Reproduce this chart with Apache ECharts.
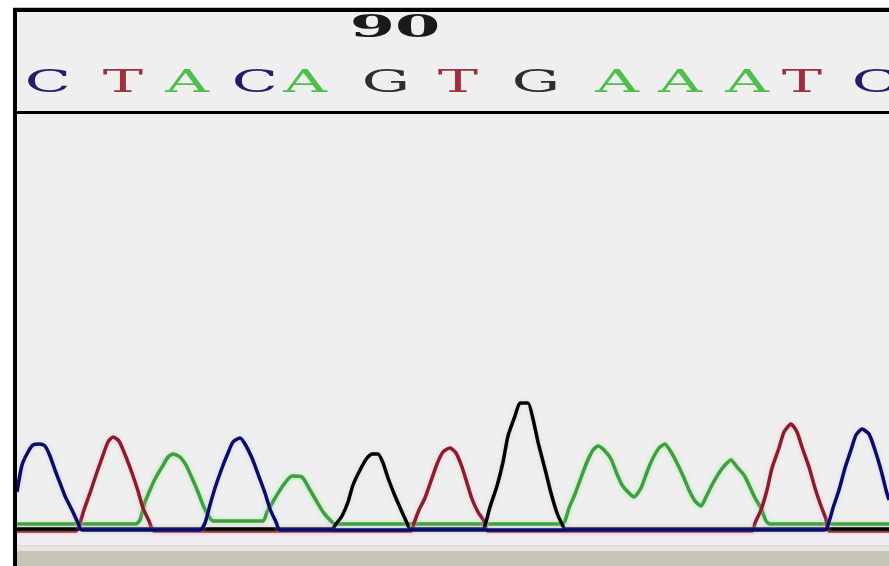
<!DOCTYPE html>
<html>
<head>
<meta charset="utf-8">
<script src="https://cdn.jsdelivr.net/npm/echarts@6/dist/echarts.min.js"></script>
<style>
html,body{margin:0;padding:0;background:#fff;}
#chart{width:889px;height:566px;}
</style>
</head>
<body>
<div id="chart"></div>
<script>
// Base calls (header) and their positions along the scan axis
const baseLetters = ['C','T','A','C','A','G','T','G','A','A','A','T','C'];
const basePositions = [48,123,187,255,305,386,458,536,617,680,747,802,875];
// Position ruler label
const rulerLabels = ['90'];
const rulerPositions = [395];

// Trace intensities [scan position, signal]
const traceC = [[17,38],[22,65],[28,78],[33,85],[40,86],[45,84],[50,74],[55,60],[60,47],[65,34],[72,20],[78,7],[82,0],
  [200,0],[205,7],[210,25],[215,42],[222,62],[228,77],[233,88],[240,92],[245,86],[252,72],[258,56],[265,37],[270,21],[276,8],[280,0],
  [825,0],[829,8],[833,22],[839,40],[845,62],[851,80],[856,95],[862,101],[869,96],[875,80],[881,60],[886,40],[889,30]];
const traceT = [[17,-1],[76,-1],[79,4],[84,20],[90,37],[96,55],[102,72],[108,88],[113,93],[119,89],[126,73],[132,57],[138,39],[143,22],[149,9],[154,-1],
  [411,-1],[414,7],[419,20],[425,32],[431,49],[437,66],[443,78],[450,82],[456,77],[462,63],[467,47],[472,31],[478,18],[484,9],[488,-1],
  [752,-1],[755,7],[761,20],[767,40],[772,62],[779,82],[784,98],[791,106],[797,98],[802,83],[809,63],[815,42],[821,24],[826,11],[829,-1],[889,-1]];
const traceA = [[17,6],[136,6],[140,10],[145,28],[150,40],[155,51],[162,63],[168,73],[173,76],[180,73],[186,65],[192,52],[198,38],[203,25],[208,15],[213,9],
  [263,9],[267,18],[274,30],[282,43],[292,54],[302,53],[310,40],[317,28],[323,18],[330,10],[335,6],
  [562,6],[565,9],[569,22],[575,36],[582,55],[587,68],[593,80],[598,84],[604,80],[611,71],[617,56],[622,45],[629,37],[634,33],
  [641,42],[647,58],[652,70],[659,82],[665,86],[671,78],[677,67],[684,52],[689,40],[695,29],[701,24],
  [707,35],[712,45],[719,57],[725,65],[731,70],[737,63],[744,55],[749,45],[755,32],[761,22],[766,9],[770,6],[889,6]];
const traceG = [[17,1],[332,1],[336,6],[342,14],[348,28],[353,45],[360,60],[367,72],[372,76],[378,76],[383,67],[388,52],[395,34],[402,18],[407,7],[410,1],
  [483,1],[486,8],[490,23],[497,44],[503,68],[508,94],[515,114],[520,127],[528,127],[533,111],[538,88],[545,61],[551,37],[557,17],[562,6],[565,1],[889,1]];

const baseColors = {C:'#1f1f6c', T:'#a0303e', A:'#4cbf4c', G:'#2e2e2e'};
const traceColors = {C:'#0b0b6a', T:'#8a1c2c', A:'#3f9f3f', G:'#000000'};

const chart = echarts.init(document.getElementById('chart'), null, {renderer:'canvas'});

function traceSeries(name, data, glow){
  return {
    name: name, type:'line', data: data, xAxisIndex:0, yAxisIndex:0,
    showSymbol:false, smooth:0.2, silent:true,
    lineStyle:{color:traceColors[name], width:3.5, shadowColor:glow, shadowBlur:4},
    emphasis:{disabled:true}
  };
}

chart.setOption({
  animation:false,
  backgroundColor:'#ffffff',
  graphic:[
    {type:'rect', shape:{x:13,y:7,width:876,height:1}, style:{fill:'#c8c8c8'}, z:-10},
    {type:'rect', shape:{x:17,y:12,width:872,height:534}, style:{fill:'#efefef'}, z:-10},
    {type:'rect', shape:{x:17,y:534,width:872,height:11}, style:{fill:'#f1eef2'}, z:-9},
    {type:'rect', shape:{x:17,y:545,width:872,height:2}, style:{fill:'#dedede'}, z:-9},
    {type:'rect', shape:{x:17,y:547,width:872,height:4}, style:{fill:'#e8e6e0'}, z:-9},
    {type:'rect', shape:{x:17,y:551,width:872,height:15}, style:{fill:'#c8c4b8'}, z:-9},
    {type:'rect', shape:{x:13,y:8,width:876,height:4}, style:{fill:'#000'}, z:100},
    {type:'rect', shape:{x:13,y:8,width:4,height:558}, style:{fill:'#000'}, z:100},
    {type:'rect', shape:{x:17,y:111,width:872,height:3}, style:{fill:'#000'}, z:100}
  ],
  grid:[
    {left:17, right:0, top:114, height:430},
    {left:17, right:0, top:12, height:99}
  ],
  xAxis:[
    {type:'value', gridIndex:0, min:17, max:889, show:false},
    {type:'value', gridIndex:1, min:17, max:889, show:false}
  ],
  yAxis:[
    {type:'value', gridIndex:0, min:-14, max:416, show:false},
    {type:'value', gridIndex:1, min:0, max:99, inverse:true, show:false}
  ],
  series:[
    traceSeries('A', traceA, 'rgba(140,235,140,0.7)'),
    traceSeries('T', traceT, 'rgba(240,170,190,0.6)'),
    traceSeries('G', traceG, 'rgba(200,200,210,0.5)'),
    traceSeries('C', traceC, 'rgba(190,190,240,0.6)'),
    {
      type:'custom', xAxisIndex:1, yAxisIndex:1, silent:true,
      data: basePositions.map((x,i)=>[x, 71.5, i]),
      renderItem: function(params, api){
        const p = api.coord([api.value(0), api.value(1)]);
        const letter = baseLetters[api.value(2)];
        return {type:'text', x:p[0], y:p[1], scaleX:1.95, style:{
          text:letter, fill:baseColors[letter], font:'31px "DejaVu Serif"',
          align:'center', verticalAlign:'middle'}};
      }
    },
    {
      type:'custom', xAxisIndex:1, yAxisIndex:1, silent:true,
      data: rulerPositions.map((x,i)=>[x, 17, i]),
      renderItem: function(params, api){
        const p = api.coord([api.value(0), api.value(1)]);
        return {type:'text', x:p[0], y:p[1], scaleX:2.1, style:{
          text:rulerLabels[api.value(2)], fill:'#1a1a1a', font:'bold 31px "DejaVu Serif"',
          align:'center', verticalAlign:'middle'}};
      }
    }
  ]
});
</script>
</body>
</html>
